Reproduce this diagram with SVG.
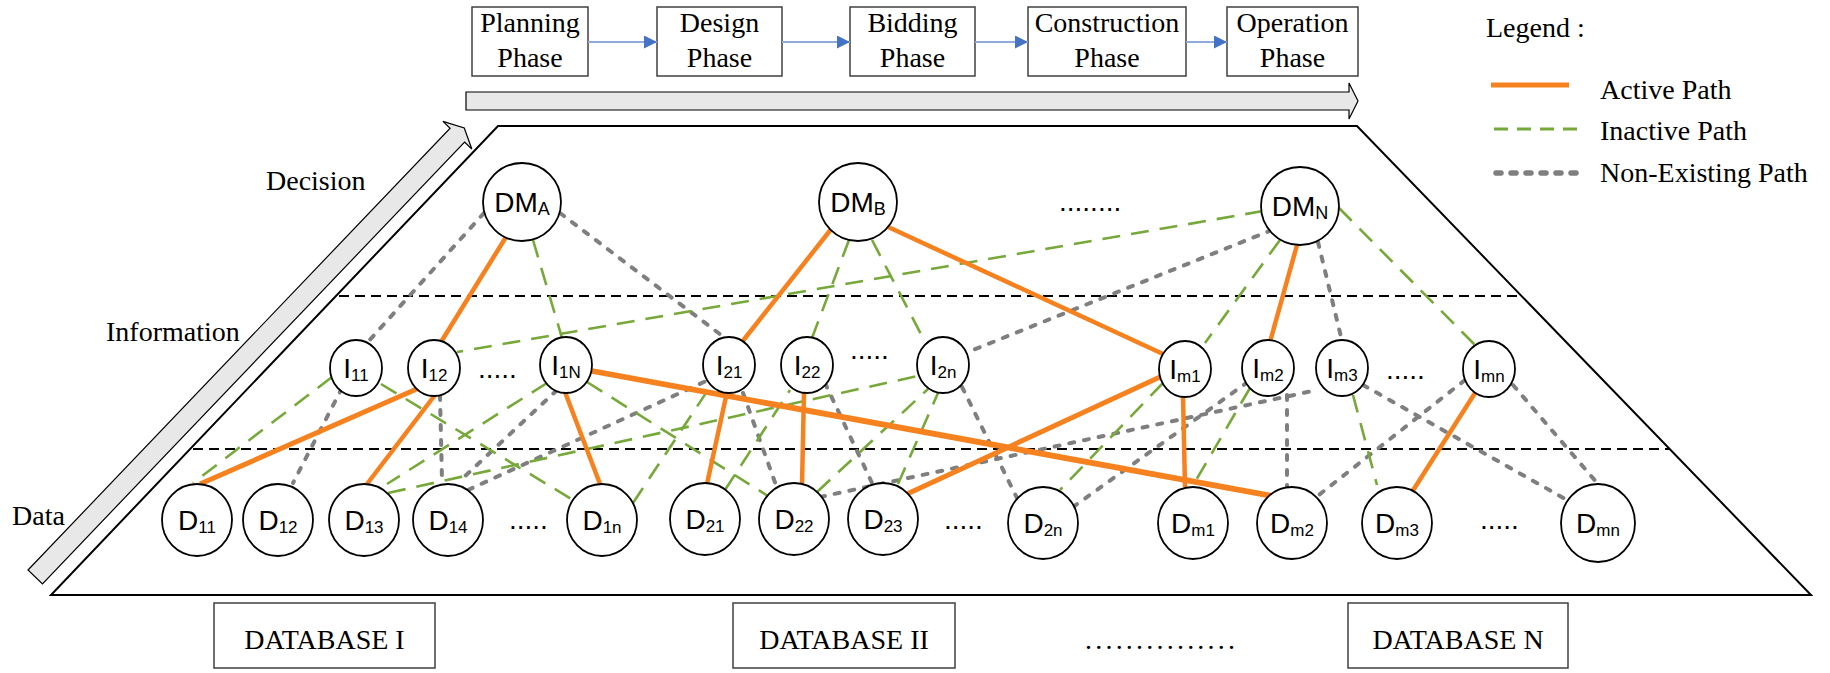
<svg xmlns="http://www.w3.org/2000/svg" width="1830" height="673" viewBox="0 0 1830 673">
<style>
.node{fill:#fff;stroke:#000;stroke-width:1.8}
.lbl{font-family:"Liberation Sans",Arial,sans-serif;font-size:28px;text-anchor:middle;fill:#000}
.sub{font-size:17px}
.sub2{font-size:18px}
.serif{font-family:"Liberation Serif","Times New Roman",serif;font-size:28px;fill:#000}
.mid{text-anchor:middle}
.dots{font-family:"Liberation Sans",Arial,sans-serif;font-size:28px;fill:#000}
.act{stroke:#F5821F;stroke-width:4.5;fill:none}
.ina{stroke:#77A83A;stroke-width:2.6;stroke-dasharray:18 11;fill:none}
.non{stroke:#7F7F7F;stroke-width:4;stroke-dasharray:5 10;stroke-linecap:round;fill:none}
.sep{stroke:#000;stroke-width:1.8;stroke-dasharray:10 6;fill:none}
.phase{fill:#fff;stroke:#404040;stroke-width:1.5}
.big{fill:#E8E8E8;stroke:#000;stroke-width:1.2}
.flow{stroke:#8FAADC;stroke-width:2;fill:none}
</style>
<defs>
<marker id="bh" markerWidth="13" markerHeight="13" refX="13" refY="6.5" orient="auto" markerUnits="userSpaceOnUse">
<path d="M0,0 L13,6.5 L0,13 z" fill="#4472C4"/>
</marker>
</defs>
<rect width="1830" height="673" fill="#fff"/>

<!-- phases -->
<g id="phases">
<g id="planning"><rect class="phase" x="472" y="7" width="116" height="69"/><text class="serif mid" x="530" y="32">Planning</text><text class="serif mid" x="530" y="67">Phase</text></g>
<g id="design"><rect class="phase" x="657" y="7" width="125" height="69"/><text class="serif mid" x="719.5" y="32">Design</text><text class="serif mid" x="719.5" y="67">Phase</text></g>
<g id="bidding"><rect class="phase" x="850" y="7" width="125" height="69"/><text class="serif mid" x="912.5" y="32">Bidding</text><text class="serif mid" x="912.5" y="67">Phase</text></g>
<g id="construction"><rect class="phase" x="1028" y="7" width="158" height="69"/><text class="serif mid" x="1107" y="32">Construction</text><text class="serif mid" x="1107" y="67">Phase</text></g>
<g id="operation"><rect class="phase" x="1227" y="7" width="131" height="69"/><text class="serif mid" x="1292.5" y="32">Operation</text><text class="serif mid" x="1292.5" y="67">Phase</text></g>
<g id="phase-arrows">
<line class="flow" x1="588" y1="42" x2="657" y2="42" marker-end="url(#bh)"/>
<line class="flow" x1="782" y1="42" x2="850" y2="42" marker-end="url(#bh)"/>
<line class="flow" x1="975" y1="42" x2="1028" y2="42" marker-end="url(#bh)"/>
<line class="flow" x1="1186" y1="42" x2="1227" y2="42" marker-end="url(#bh)"/>
</g>
</g>

<!-- big arrows -->
<polygon class="big" points="466,92 1349,92 1349,83 1358,101 1349,119 1349,110 466,110"/>
<g transform="translate(28,570) rotate(-46.3)">
<polygon class="big" points="0,0 611,0 611,-10 621,10 611,30 611,20 0,20"/>
</g>

<!-- trapezoid -->
<polygon points="498,126 1357,126 1811,595 51,595" fill="none" stroke="#000" stroke-width="2"/>
<line class="sep" x1="339" y1="296" x2="1521" y2="296"/>
<line class="sep" x1="193" y1="449" x2="1670" y2="449"/>

<!-- layer labels -->
<text class="serif" x="266" y="190">Decision</text>
<text class="serif" x="106" y="341">Information</text>
<text class="serif" x="12" y="525">Data</text>

<!-- legend -->
<g id="legend">
<text class="serif" x="1486" y="37">Legend :</text>
<line x1="1491" y1="85" x2="1569" y2="85" stroke="#F5821F" stroke-width="5"/>
<text class="serif" x="1600" y="99">Active Path</text>
<line x1="1494" y1="129" x2="1578" y2="129" stroke="#77A83A" stroke-width="3" stroke-dasharray="14 9"/>
<text class="serif" x="1600" y="140">Inactive Path</text>
<line x1="1496" y1="173" x2="1576" y2="173" stroke="#7F7F7F" stroke-width="5.5" stroke-dasharray="5 10" stroke-linecap="round"/>
<text class="serif" x="1600" y="182">Non-Existing Path</text>
</g>

<!-- connectors -->
<g id="connectors">
<g id="non-existing">
<line class="non" x1="484" y1="213" x2="367" y2="343"/>
<line class="non" x1="560" y1="213" x2="725" y2="338"/>
<line class="non" x1="1272" y1="230" x2="968" y2="352"/>
<line class="non" x1="1318" y1="242" x2="1342" y2="341"/>
<line class="non" x1="342" y1="388" x2="293" y2="483"/>
<line class="non" x1="440" y1="395" x2="442" y2="480"/>
<line class="non" x1="557" y1="390" x2="463" y2="478"/>
<line class="non" x1="468" y1="490" x2="706" y2="381"/>
<line class="non" x1="743" y1="393" x2="777" y2="488"/>
<line class="non" x1="825" y1="383" x2="873" y2="485"/>
<line class="non" x1="962" y1="387" x2="1018" y2="500"/>
<line class="non" x1="820" y1="497" x2="1317" y2="390"/>
<line class="non" x1="1073" y1="507" x2="1245" y2="384"/>
<line class="non" x1="1287" y1="395" x2="1287" y2="486"/>
<line class="non" x1="1363" y1="385" x2="1567" y2="500"/>
<line class="non" x1="1465" y1="380" x2="1315" y2="498"/>
<line class="non" x1="1513" y1="385" x2="1598" y2="484"/>
</g>
<g id="inactive">
<line class="ina" x1="533" y1="240" x2="562" y2="338"/>
<line class="ina" x1="849" y1="240" x2="812" y2="338"/>
<line class="ina" x1="872" y1="240" x2="925" y2="342"/>
<line class="ina" x1="1263" y1="211" x2="457" y2="352"/>
<line class="ina" x1="1280" y1="240" x2="1205" y2="343"/>
<line class="ina" x1="1339" y1="208" x2="1475" y2="345"/>
<line class="ina" x1="332" y1="377" x2="193" y2="483"/>
<line class="ina" x1="381" y1="384" x2="573" y2="500"/>
<line class="ina" x1="547" y1="383" x2="387" y2="484"/>
<line class="ina" x1="388" y1="493" x2="918" y2="376"/>
<line class="ina" x1="587" y1="382" x2="768" y2="496"/>
<line class="ina" x1="633" y1="503" x2="708" y2="390"/>
<line class="ina" x1="725" y1="490" x2="790" y2="390"/>
<line class="ina" x1="817" y1="492" x2="928" y2="389"/>
<line class="ina" x1="898" y1="484" x2="938" y2="393"/>
<line class="ina" x1="1163" y1="383" x2="1060" y2="490"/>
<line class="ina" x1="1250" y1="388" x2="1192" y2="487"/>
<line class="ina" x1="1353" y1="395" x2="1377" y2="485"/>
</g>
<g id="active">
<line class="act" x1="506" y1="237" x2="441" y2="342"/>
<line class="act" x1="832" y1="228" x2="742" y2="342"/>
<line class="act" x1="886" y1="226" x2="1163" y2="354"/>
<line class="act" x1="1297" y1="245" x2="1270" y2="342"/>
<line class="act" x1="419" y1="388" x2="200" y2="484" style="stroke-width:5"/>
<line class="act" x1="435" y1="395" x2="367" y2="484"/>
<line class="act" x1="565" y1="392" x2="600" y2="484"/>
<line class="act" x1="592" y1="371" x2="1272" y2="496" style="stroke-width:5.8"/>
<line class="act" x1="727" y1="392" x2="707" y2="484"/>
<line class="act" x1="804" y1="392" x2="802" y2="485"/>
<line class="act" x1="1160" y1="377" x2="907" y2="494" style="stroke-width:5"/>
<line class="act" x1="1183" y1="396" x2="1185" y2="487"/>
<line class="act" x1="1475" y1="393" x2="1412" y2="492"/>
</g>
</g>

<!-- decision nodes -->
<g id="DM_A"><circle class="node" cx="522" cy="202" r="39"/><text class="lbl" x="522" y="212">DM<tspan class="sub2" dy="3">A</tspan></text></g>
<g id="DM_B"><circle class="node" cx="858" cy="202" r="39"/><text class="lbl" x="858" y="212">DM<tspan class="sub2" dy="3">B</tspan></text></g>
<g id="DM_N"><circle class="node" cx="1300" cy="206" r="39"/><text class="lbl" x="1300" y="216">DM<tspan class="sub2" dy="3">N</tspan></text></g>
<text class="dots" x="1059" y="211">........</text>

<!-- information nodes -->
<g id="I_11"><ellipse class="node" cx="356" cy="368" rx="26" ry="28"/><text class="lbl" x="356" y="378">I<tspan class="sub" dy="3">11</tspan></text></g>
<g id="I_12"><ellipse class="node" cx="434" cy="368" rx="26" ry="28"/><text class="lbl" x="434" y="378">I<tspan class="sub" dy="3">12</tspan></text></g>
<g id="I_1N"><ellipse class="node" cx="566" cy="365" rx="26" ry="28"/><text class="lbl" x="566" y="375">I<tspan class="sub" dy="3">1N</tspan></text></g>
<g id="I_21"><ellipse class="node" cx="729" cy="365" rx="26" ry="28"/><text class="lbl" x="729" y="375">I<tspan class="sub" dy="3">21</tspan></text></g>
<g id="I_22"><ellipse class="node" cx="807" cy="365" rx="26" ry="28"/><text class="lbl" x="807" y="375">I<tspan class="sub" dy="3">22</tspan></text></g>
<g id="I_2n"><ellipse class="node" cx="943" cy="365" rx="26" ry="28"/><text class="lbl" x="943" y="375">I<tspan class="sub" dy="3">2n</tspan></text></g>
<g id="I_m1"><ellipse class="node" cx="1185" cy="369" rx="26" ry="28"/><text class="lbl" x="1185" y="379">I<tspan class="sub" dy="3">m1</tspan></text></g>
<g id="I_m2"><ellipse class="node" cx="1268" cy="368" rx="26" ry="28"/><text class="lbl" x="1268" y="378">I<tspan class="sub" dy="3">m2</tspan></text></g>
<g id="I_m3"><ellipse class="node" cx="1342" cy="368" rx="26" ry="28"/><text class="lbl" x="1342" y="378">I<tspan class="sub" dy="3">m3</tspan></text></g>
<g id="I_mn"><ellipse class="node" cx="1489" cy="369" rx="26" ry="28"/><text class="lbl" x="1489" y="379">I<tspan class="sub" dy="3">mn</tspan></text></g>
<text class="dots" x="478" y="378">.....</text>
<text class="dots" x="850" y="359">.....</text>
<text class="dots" x="1386" y="379">.....</text>

<!-- data nodes -->
<g id="D_11"><ellipse class="node" cx="197" cy="520" rx="35" ry="36"/><text class="lbl" x="197" y="530">D<tspan class="sub" dy="3">11</tspan></text></g>
<g id="D_12"><ellipse class="node" cx="278" cy="520" rx="35" ry="36"/><text class="lbl" x="278" y="530">D<tspan class="sub" dy="3">12</tspan></text></g>
<g id="D_13"><ellipse class="node" cx="364" cy="520" rx="35" ry="36"/><text class="lbl" x="364" y="530">D<tspan class="sub" dy="3">13</tspan></text></g>
<g id="D_14"><ellipse class="node" cx="448" cy="520" rx="35" ry="36"/><text class="lbl" x="448" y="530">D<tspan class="sub" dy="3">14</tspan></text></g>
<g id="D_1n"><ellipse class="node" cx="602" cy="520" rx="35" ry="36"/><text class="lbl" x="602" y="530">D<tspan class="sub" dy="3">1n</tspan></text></g>
<g id="D_21"><ellipse class="node" cx="705" cy="519" rx="35" ry="36"/><text class="lbl" x="705" y="529">D<tspan class="sub" dy="3">21</tspan></text></g>
<g id="D_22"><ellipse class="node" cx="794" cy="519" rx="35" ry="36"/><text class="lbl" x="794" y="529">D<tspan class="sub" dy="3">22</tspan></text></g>
<g id="D_23"><ellipse class="node" cx="883" cy="519" rx="35" ry="36"/><text class="lbl" x="883" y="529">D<tspan class="sub" dy="3">23</tspan></text></g>
<g id="D_2n"><ellipse class="node" cx="1043" cy="523" rx="35" ry="36"/><text class="lbl" x="1043" y="533">D<tspan class="sub" dy="3">2n</tspan></text></g>
<g id="D_m1"><ellipse class="node" cx="1193" cy="523" rx="35" ry="36"/><text class="lbl" x="1193" y="533">D<tspan class="sub" dy="3">m1</tspan></text></g>
<g id="D_m2"><ellipse class="node" cx="1292" cy="523" rx="35" ry="36"/><text class="lbl" x="1292" y="533">D<tspan class="sub" dy="3">m2</tspan></text></g>
<g id="D_m3"><ellipse class="node" cx="1397" cy="523" rx="35" ry="36"/><text class="lbl" x="1397" y="533">D<tspan class="sub" dy="3">m3</tspan></text></g>
<g id="D_mn"><ellipse class="node" cx="1598" cy="523" rx="37" ry="39"/><text class="lbl" x="1598" y="533">D<tspan class="sub" dy="3">mn</tspan></text></g>
<text class="dots" x="509" y="529">.....</text>
<text class="dots" x="944" y="529">.....</text>
<text class="dots" x="1480" y="529">.....</text>

<!-- databases -->
<g id="db1"><rect class="phase" x="214" y="603" width="221" height="65"/><text class="serif mid" x="324.5" y="649">DATABASE I</text></g>
<g id="db2"><rect class="phase" x="733" y="603" width="222" height="65"/><text class="serif mid" x="844" y="649">DATABASE II</text></g>
<g id="dbN"><rect class="phase" x="1348" y="603" width="220" height="65"/><text class="serif mid" x="1458" y="649">DATABASE N</text></g>
<text class="serif" x="1085" y="649" textLength="150" lengthAdjust="spacing">...............</text>
</svg>
